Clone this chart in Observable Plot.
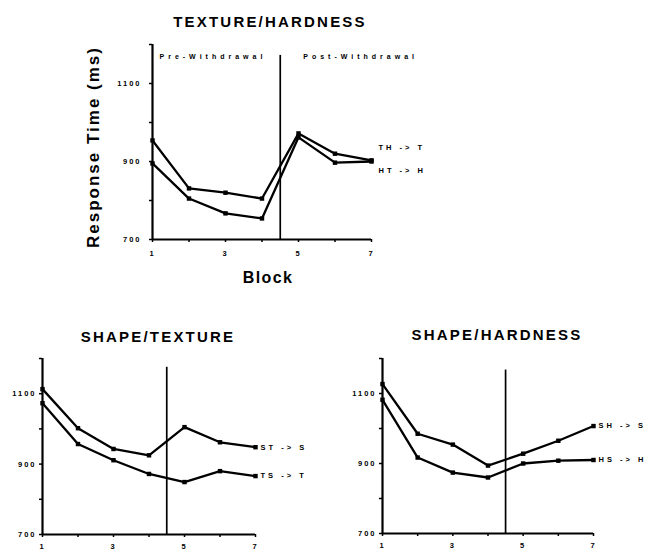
<!DOCTYPE html>
<html><head><meta charset="utf-8">
<script src="https://cdn.jsdelivr.net/npm/d3@7"></script>
<script src="https://cdn.jsdelivr.net/npm/@observablehq/plot@0.6"></script>
<style>
body{margin:0;background:#fff;}
#wrap{position:relative;width:648px;height:551px;background:#fff;overflow:hidden;}
#wrap > svg{position:absolute;}
</style></head><body><div id="wrap"></div>
<script>
// ---- data ----
const blocks = [1, 2, 3, 4, 5, 6, 7];
const xTickLabels = [1, 3, 5, 7];
const yTicks = [700, 800, 900, 1000, 1100, 1200];
const yTickLabels = [700, 900, 1100];
const withdrawalBlock = 4.5;
const phaseLabels = ["Pre-Withdrawal", "Post-Withdrawal"];
const yAxisLabel = "Response Time (ms)";
const xAxisLabel = "Block";

// Texture/Hardness
const thTitle = "TEXTURE/HARDNESS";
const thNames = ["TH -> T", "HT -> H"];
const TH_T = [954, 831, 820, 805, 972, 920, 903];
const HT_H = [895, 805, 767, 754, 962, 897, 900];
const thLabelY = [936, 877];

// Shape/Texture
const stTitle = "SHAPE/TEXTURE";
const stNames = ["ST -> S", "TS -> T"];
const ST_S = [1113, 1002, 943, 925, 1005, 962, 948];
const TS_T = [1073, 957, 911, 872, 849, 880, 866];
const stLabelY = [948, 866];

// Shape/Hardness
const shTitle = "SHAPE/HARDNESS";
const shNames = ["SH -> S", "HS -> H"];
const SH_S = [1127, 985, 954, 894, 928, 965, 1007];
const HS_H = [1082, 917, 874, 860, 900, 908, 910];
const shLabelY = [1007, 910];

const FONT = "Liberation Sans, Arial, sans-serif";

function panel(cfg) {
  const rows = [];
  cfg.names.forEach((n, i) => blocks.forEach((b, j) => rows.push({series: n, block: b, rt: cfg.series[i][j]})));
  const labels = cfg.names.map((n, i) => ({label: n, y: cfg.labelY[i]}));
  const marks = [
    Plot.axisX({ticks: blocks, tickFormat: d => xTickLabels.includes(d) ? String(d) : "", tickSize: 3, tickPadding: cfg.xPad, fontSize: 7.5, fontWeight: "bold", label: null, strokeWidth: 1.5}),
    Plot.axisY({ticks: yTicks, tickFormat: d => yTickLabels.includes(d) ? String(d) : "", tickSize: 3, tickPadding: cfg.yPad, fontSize: 7.5, fontWeight: "bold", label: null, strokeWidth: 1.5}),
    Plot.ruleX([1], {y1: 700, y2: 1200, strokeWidth: 2.2}),
    Plot.ruleY([700], {x1: 1, x2: 7, strokeWidth: 2.2}),
    Plot.ruleX([withdrawalBlock], {y1: 700, y2: cfg.dividerTop, strokeWidth: 1.7}),
    Plot.line(rows, {x: "block", y: "rt", z: "series", stroke: "black", strokeWidth: 2.3}),
    Plot.dot(rows, {x: "block", y: "rt", symbol: "square", r: 2.5, fill: "black"}),
    Plot.text(labels, {x: 7, y: "y", text: "label", textAnchor: "start", lineAnchor: "middle", dx: cfg.labelDx, fontSize: 7.5, fontWeight: "bold"}),
    Plot.text([cfg.title], {frameAnchor: "top", lineAnchor: "middle", textAnchor: "middle", dx: cfg.titleDx, dy: cfg.titleDy, fontSize: 15, fontWeight: "bold"})
  ];
  if (cfg.full) {
    marks.push(
      Plot.text([phaseLabels[0]], {frameAnchor: "top-left", lineAnchor: "middle", dx: 7, dy: 12, textAnchor: "start", fontSize: 7, fontWeight: "bold"}),
      Plot.text([phaseLabels[1]], {x: withdrawalBlock, frameAnchor: "top", lineAnchor: "middle", dx: 23, dy: 12, textAnchor: "start", fontSize: 7, fontWeight: "bold"}),
      Plot.text([xAxisLabel], {frameAnchor: "bottom", lineAnchor: "middle", textAnchor: "middle", dx: 6, dy: 38, fontSize: 16, fontWeight: "bold"}),
      Plot.text([yAxisLabel], {frameAnchor: "left", lineAnchor: "middle", textAnchor: "middle", dx: -59, dy: 5, rotate: -90, fontSize: 17, fontWeight: "bold"})
    );
  }
  const svg = Plot.plot({
    width: cfg.width, height: cfg.height,
    marginLeft: cfg.ml, marginRight: cfg.mr, marginTop: cfg.mt, marginBottom: cfg.mb,
    x: {domain: [1, 7]},
    y: {domain: [700, 1200]},
    style: {fontFamily: FONT, background: "white", overflow: "visible", color: "black"},
    marks
  });
  svg.style.left = cfg.left + "px";
  svg.style.top = cfg.top + "px";
  // letter spacing to mimic the wide lettering of the scan
  const titles = [thTitle, stTitle, shTitle];
  const seriesNames = [...thNames, ...stNames, ...shNames];
  d3.select(svg).selectAll("text").each(function () {
    const t = this.textContent;
    let ls = null;
    if (titles.includes(t)) ls = 2.2;
    else if (phaseLabels.includes(t)) ls = 4;
    else if (seriesNames.includes(t)) ls = 3;
    else if (t === xAxisLabel) ls = 1.4;
    else if (t === yAxisLabel) ls = 2;
    else if (/^\d+$/.test(t)) ls = 2;
    if (ls != null) this.style.letterSpacing = ls + "px";
  });
  document.getElementById("wrap").appendChild(svg);
}

panel({title: thTitle, names: thNames, series: [TH_T, HT_H], labelY: thLabelY, full: true,
  left: 0, top: 0, width: 648, height: 290, ml: 152, mr: 277, mt: 44, mb: 51,
  dividerTop: 1172, labelDx: 7, titleDx: 8, titleDy: -22, xPad: 8, yPad: 8});
panel({title: stTitle, names: stNames, series: [ST_S, TS_T], labelY: stLabelY, full: false,
  left: 0, top: 290, width: 324, height: 261, ml: 42, mr: 69, mt: 68, mb: 17,
  dividerTop: 1175, labelDx: 5, titleDx: 9, titleDy: -21, xPad: 6, yPad: 3});
panel({title: shTitle, names: shNames, series: [SH_S, HS_H], labelY: shLabelY, full: false,
  left: 330, top: 290, width: 318, height: 261, ml: 52, mr: 55, mt: 68, mb: 18,
  dividerTop: 1167, labelDx: 5, titleDx: 9, titleDy: -23, xPad: 6, yPad: 3});
</script></body></html>
